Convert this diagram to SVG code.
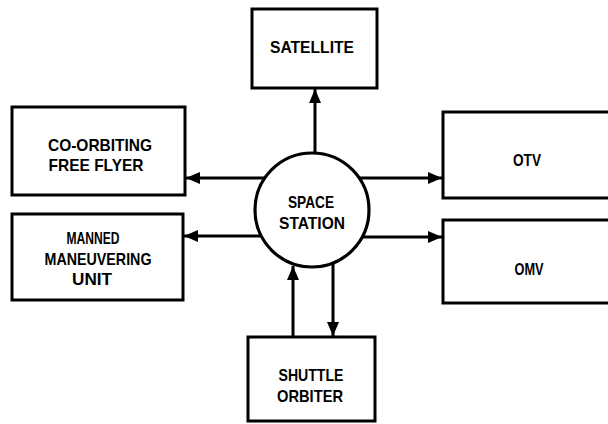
<svg xmlns="http://www.w3.org/2000/svg" width="608" height="424" viewBox="0 0 608 424">
  <style>
    .box { fill: #fff; stroke: #000; stroke-width: 3; }
    .hub { fill: #fff; stroke: #000; stroke-width: 3.2; }
    .lbl { font-family: "Liberation Sans", "DejaVu Sans", sans-serif; font-weight: bold; font-size: 17px; fill: #000; text-anchor: middle; }
    .wire { stroke: #000; stroke-width: 3; fill: none; marker-end: url(#head); }
  </style>
  <defs>
    <marker id="head" viewBox="0 0 14 12" refX="14" refY="6" markerWidth="14" markerHeight="12" markerUnits="userSpaceOnUse" orient="auto">
      <path d="M0,0 L14,6 L0,12 z" fill="#000"/>
    </marker>
  </defs>
  <rect width="608" height="424" fill="#fff"/>

  <!-- connectors from the space station to each element -->
  <g id="connectors">
    <line class="wire" x1="315" y1="160" x2="315" y2="89"/>
    <line class="wire" x1="270" y1="178" x2="186" y2="178"/>
    <line class="wire" x1="270" y1="236" x2="184" y2="236"/>
    <line class="wire" x1="355" y1="178" x2="442" y2="178"/>
    <line class="wire" x1="355" y1="237" x2="442" y2="237"/>
    <line class="wire" x1="293" y1="337" x2="293" y2="266"/>
    <line class="wire" x1="333" y1="262" x2="333" y2="336"/>
  </g>

  <g id="satellite">
    <rect class="box" x="252" y="9" width="125" height="79"/>
    <text class="lbl" x="312" y="53" textLength="84" lengthAdjust="spacingAndGlyphs">SATELLITE</text>
  </g>

  <g id="co-orbiting-free-flyer">
    <rect class="box" x="12" y="107" width="173" height="88"/>
    <text class="lbl" x="100" y="151" textLength="104" lengthAdjust="spacingAndGlyphs">CO-ORBITING</text>
    <text class="lbl" x="96" y="171" textLength="95" lengthAdjust="spacingAndGlyphs">FREE FLYER</text>
  </g>

  <g id="manned-maneuvering-unit">
    <rect class="box" x="12" y="214" width="171" height="86"/>
    <text class="lbl" x="93" y="244" textLength="53" lengthAdjust="spacingAndGlyphs">MANNED</text>
    <text class="lbl" x="98" y="265" textLength="107" lengthAdjust="spacingAndGlyphs">MANEUVERING</text>
    <text class="lbl" x="92" y="285" textLength="40" lengthAdjust="spacingAndGlyphs">UNIT</text>
  </g>

  <g id="otv">
    <rect class="box" x="443" y="112" width="180" height="86"/>
    <text class="lbl" x="527" y="166" textLength="28" lengthAdjust="spacingAndGlyphs">OTV</text>
  </g>

  <g id="omv">
    <rect class="box" x="443" y="220" width="180" height="83"/>
    <text class="lbl" x="529" y="275" textLength="29" lengthAdjust="spacingAndGlyphs">OMV</text>
  </g>

  <g id="shuttle-orbiter">
    <rect class="box" x="248" y="337" width="127" height="84"/>
    <text class="lbl" x="311" y="381" textLength="65" lengthAdjust="spacingAndGlyphs">SHUTTLE</text>
    <text class="lbl" x="310" y="402" textLength="66" lengthAdjust="spacingAndGlyphs">ORBITER</text>
  </g>

  <g id="space-station">
    <circle class="hub" cx="312" cy="210" r="57"/>
    <text class="lbl" x="311" y="208" textLength="46" lengthAdjust="spacingAndGlyphs">SPACE</text>
    <text class="lbl" x="312" y="229" textLength="66" lengthAdjust="spacingAndGlyphs">STATION</text>
  </g>
</svg>
